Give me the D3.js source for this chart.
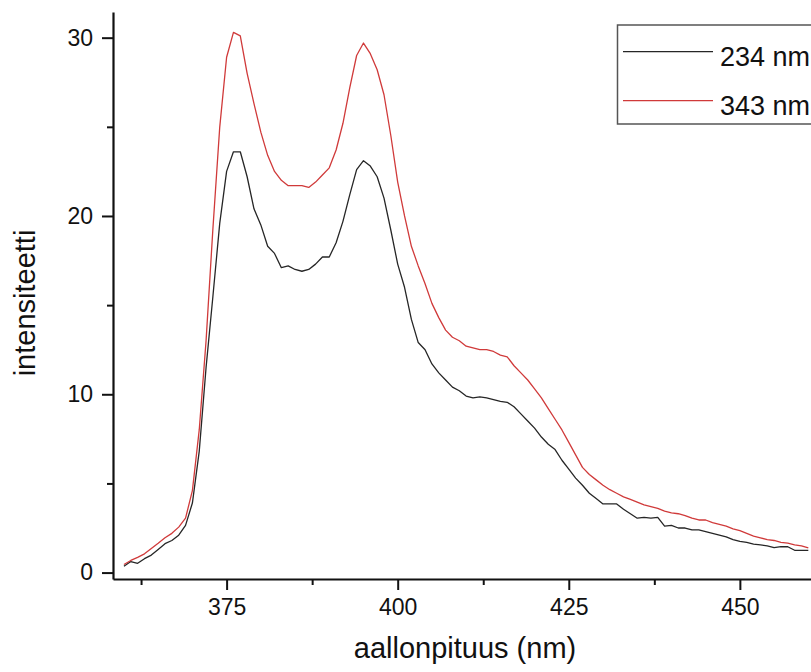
<!DOCTYPE html>
<html>
<head>
<meta charset="utf-8">
<script src="https://cdn.jsdelivr.net/npm/d3@7"></script>
<style>
  body { margin: 0; background: #fff; }
  svg { display: block; font-family: "Liberation Sans", Arial, sans-serif; }
  .axis path, .axis line { stroke: #111; }
</style>
</head>
<body>
<div id="chart"></div>
<script>
// wavelengths (nm), one reading per nm
const wavelengths = d3.range(360, 461);

// emission spectrum, excitation 234 nm
const series234 = [
  0.35, 0.62, 0.52, 0.78, 0.98, 1.3, 1.62, 1.8, 2.1, 2.65,
  3.9, 6.8, 11.5, 15.5, 19.6, 22.5, 23.6, 23.6, 22.2, 20.4,
  19.5, 18.3, 17.9, 17.1, 17.2, 17.0, 16.9, 17.0, 17.3, 17.7,
  17.7, 18.5, 19.7, 21.2, 22.6, 23.1, 22.8, 22.2, 21.0, 19.2,
  17.3, 16.0, 14.2, 12.9, 12.5, 11.7, 11.2, 10.8, 10.4, 10.2,
  9.9, 9.8, 9.85, 9.8, 9.7, 9.6, 9.55, 9.3, 8.9, 8.5,
  8.1, 7.6, 7.2, 6.9, 6.3, 5.8, 5.3, 4.9, 4.45, 4.15,
  3.85, 3.85, 3.85, 3.55, 3.3, 3.05, 3.1, 3.05, 3.1, 2.6,
  2.65, 2.5, 2.5, 2.4, 2.4, 2.3, 2.2, 2.1, 2.0, 1.85,
  1.75, 1.7, 1.6, 1.55, 1.5, 1.4, 1.45, 1.45, 1.25, 1.25,
  1.25
];

// emission spectrum, excitation 343 nm
const series343 = [
  0.45, 0.68, 0.85, 1.05, 1.35, 1.64, 1.95, 2.2, 2.55, 3.05,
  4.6, 8.0, 13.0, 19.3, 25.0, 28.9, 30.3, 30.1, 28.0, 26.3,
  24.7, 23.4, 22.5, 22.0, 21.7, 21.7, 21.7, 21.6, 21.9, 22.3,
  22.7, 23.7, 25.2, 27.2, 29.0, 29.7, 29.1, 28.2, 26.8, 24.5,
  21.9, 20.0, 18.3, 17.2, 16.2, 15.1, 14.3, 13.6, 13.2, 13.0,
  12.7, 12.6, 12.5, 12.5, 12.4, 12.2, 12.1, 11.6, 11.2, 10.8,
  10.3, 9.8, 9.2, 8.6, 8.0, 7.3, 6.6, 5.9, 5.5, 5.2,
  4.9, 4.65, 4.45, 4.25, 4.1, 3.95, 3.8, 3.7, 3.6, 3.45,
  3.35, 3.3, 3.2, 3.05, 2.95, 2.95, 2.8, 2.7, 2.6, 2.45,
  2.35, 2.2, 2.05, 1.95, 1.85, 1.8, 1.7, 1.65, 1.55, 1.5,
  1.38
];

const seriesNames = ["234 nm", "343 nm"];
const seriesColors = ["#262626", "#d03a3a"];

const xTicks = [375, 400, 425, 450];
const xMinorTicks = [362.5, 387.5, 412.5, 437.5];
const yTicks = [0, 10, 20, 30];
const yMinorTicks = [5, 15, 25];

const width = 811, height = 672;

const svg = d3.select("#chart").append("svg")
    .attr("width", width)
    .attr("height", height);

// scales (plot runs off the right edge like the original)
const x = d3.scaleLinear().domain([358.4, 462]).range([113, 822]);
const y = d3.scaleLinear().domain([-0.36, 31.44]).range([579, 12]);

// minor ticks first, so axes lines sit on top
svg.append("g")
    .attr("class", "axis")
    .attr("transform", "translate(0,579)")
    .call(d3.axisBottom(x).tickValues(xMinorTicks).tickSize(6).tickSizeOuter(0).tickFormat(""))
    .call(g => g.select(".domain").remove())
    .selectAll("line").attr("stroke-width", 2);

svg.append("g")
    .attr("class", "axis")
    .attr("transform", "translate(113,0)")
    .call(d3.axisLeft(y).tickValues(yMinorTicks).tickSize(6).tickSizeOuter(0).tickFormat(""))
    .call(g => g.select(".domain").remove())
    .selectAll("line").attr("stroke-width", 2);

// x axis
const xAxis = svg.append("g")
    .attr("class", "axis")
    .attr("transform", "translate(0,579)")
    .call(d3.axisBottom(x).tickValues(xTicks).tickSize(11).tickSizeOuter(0).tickPadding(9));
xAxis.select(".domain").attr("stroke-width", 2.2);
xAxis.selectAll("line").attr("stroke-width", 2);
xAxis.selectAll("text")
    .attr("font-size", 23)
    .attr("fill", "#111")
    .attr("font-family", "Liberation Sans, Arial, sans-serif");

// y axis
const yAxis = svg.append("g")
    .attr("class", "axis")
    .attr("transform", "translate(113,0)")
    .call(d3.axisLeft(y).tickValues(yTicks).tickSize(11).tickSizeOuter(0).tickPadding(9));
yAxis.select(".domain").attr("stroke-width", 2.2);
yAxis.selectAll("line").attr("stroke-width", 2);
yAxis.selectAll("text")
    .attr("font-size", 23)
    .attr("fill", "#111")
    .attr("font-family", "Liberation Sans, Arial, sans-serif");

// spectra
const allSeries = [series234, series343];
const line = d3.line()
    .x((d, i) => x(wavelengths[i]))
    .y(d => y(d));

allSeries.forEach((s, k) => {
    svg.append("path")
        .datum(s)
        .attr("fill", "none")
        .attr("stroke", seriesColors[k])
        .attr("stroke-width", 1.3)
        .attr("stroke-linejoin", "round")
        .attr("d", line);
});

// axis titles
svg.append("text")
    .attr("x", 465)
    .attr("y", 658)
    .attr("text-anchor", "middle")
    .attr("font-size", 29)
    .attr("fill", "#111")
    .text("aallonpituus (nm)");

svg.append("text")
    .attr("transform", "translate(35,303) rotate(-90)")
    .attr("text-anchor", "middle")
    .attr("font-size", 29)
    .attr("fill", "#111")
    .text("intensiteetti");

// legend
const legend = svg.append("g");
legend.append("rect")
    .attr("x", 617.5)
    .attr("y", 25)
    .attr("width", 260)
    .attr("height", 99)
    .attr("fill", "#fff")
    .attr("stroke", "#555")
    .attr("stroke-width", 1.5);

seriesNames.forEach((name, k) => {
    const ly = 51.7 + k * 49;
    legend.append("line")
        .attr("x1", 623).attr("x2", 713)
        .attr("y1", ly).attr("y2", ly)
        .attr("stroke", seriesColors[k])
        .attr("stroke-width", 1.3);
    legend.append("text")
        .attr("x", 720)
        .attr("y", ly + 14)
        .attr("font-size", 27)
        .attr("fill", "#111")
        .text(name);
});
</script>
</body>
</html>
